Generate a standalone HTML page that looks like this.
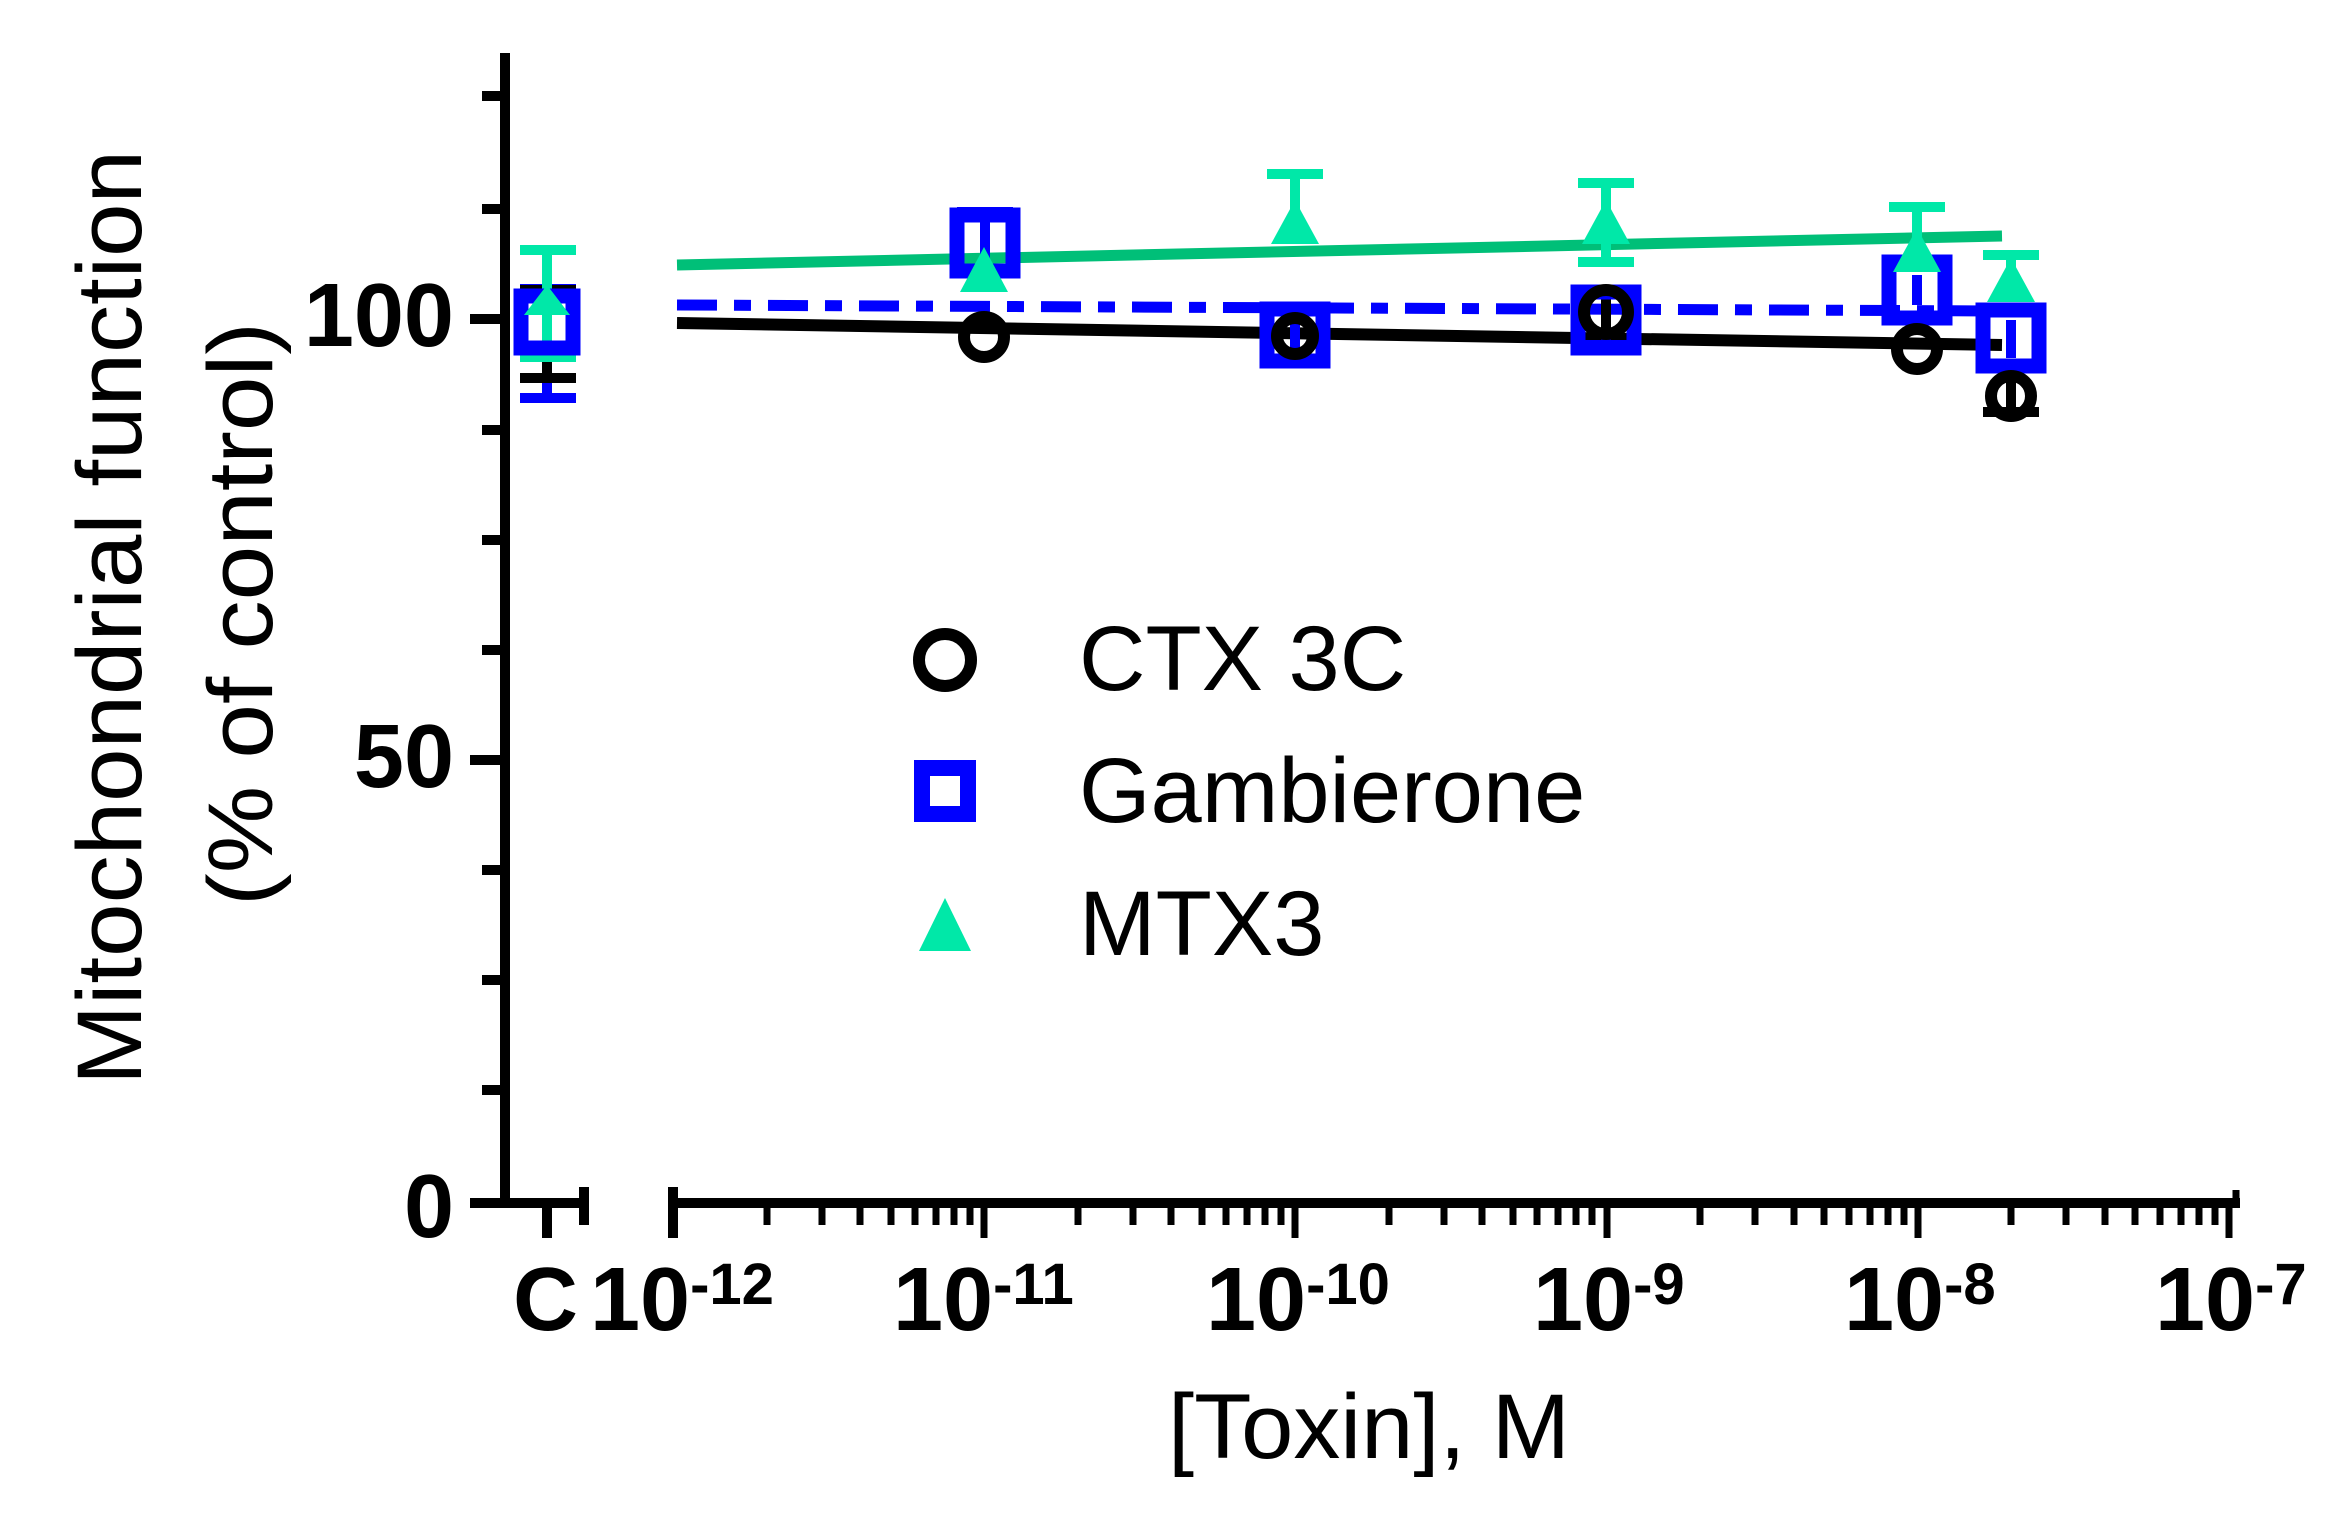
<!DOCTYPE html>
<html><head><meta charset="utf-8"><style>html,body{margin:0;padding:0;background:#fff}svg{display:block}</style></head>
<body>
<svg xmlns="http://www.w3.org/2000/svg" width="2335" height="1513" viewBox="0 0 2335 1513">
<rect width="2335" height="1513" fill="#fff"/>
<g stroke="#000" stroke-width="10" fill="none">
<line x1="505" y1="53" x2="505" y2="1208"/>
<path d="M482 96H505M482 209H505M482 430H505M482 540H505M482 650H505M482 870H505M482 980H505M482 1090H505M470 319H505M470 760H505M470 1203H505"/>
<line x1="470" y1="1203" x2="588" y2="1203"/>
<line x1="547" y1="1203" x2="547" y2="1238"/>
<line x1="584" y1="1187" x2="584" y2="1225"/>
<line x1="673" y1="1203" x2="2240" y2="1203"/>
<line x1="673" y1="1187" x2="673" y2="1238"/>
</g>
<g stroke="#000" stroke-width="7" fill="none">
<path d="M984 1203V1238M1295 1203V1238M1607 1203V1238M1918 1203V1238M2229 1203V1238M2236 1190V1203"/>
<path d="M767 1203v22M822 1203v22M860 1203v22M891 1203v22M915 1203v22M936 1203v22M954 1203v22M970 1203v22
M1078 1203v22M1133 1203v22M1171 1203v22M1202 1203v22M1226 1203v22M1247 1203v22M1265 1203v22M1281 1203v22
M1389 1203v22M1444 1203v22M1482 1203v22M1513 1203v22M1537 1203v22M1558 1203v22M1576 1203v22M1592 1203v22
M1700 1203v22M1755 1203v22M1794 1203v22M1824 1203v22M1849 1203v22M1870 1203v22M1888 1203v22M1904 1203v22
M2011 1203v22M2066 1203v22M2105 1203v22M2135 1203v22M2160 1203v22M2181 1203v22M2199 1203v22M2215 1203v22"/>
</g>
<g font-family="Liberation Sans, sans-serif" font-weight="bold" font-size="90" fill="#000">
<text x="454" y="346" text-anchor="end">100</text>
<text x="454" y="787" text-anchor="end">50</text>
<text x="454" y="1237" text-anchor="end">0</text>
<text x="513" y="1330">C</text>
<text x="590" y="1330">10<tspan font-size="58" dy="-26">-12</tspan></text>
<text x="893" y="1330">10<tspan font-size="58" dy="-26">-11</tspan></text>
<text x="1206" y="1330">10<tspan font-size="58" dy="-26">-10</tspan></text>
<text x="1533" y="1330">10<tspan font-size="58" dy="-26">-9</tspan></text>
<text x="1844" y="1330">10<tspan font-size="58" dy="-26">-8</tspan></text>
<text x="2155" y="1330">10<tspan font-size="58" dy="-26">-7</tspan></text>
</g>
<g font-family="Liberation Sans, sans-serif" font-size="92" fill="#000">
<text x="1168" y="1458" textLength="402" lengthAdjust="spacingAndGlyphs">[Toxin], M</text>
<text transform="translate(141,1085) rotate(-90)" textLength="935" lengthAdjust="spacingAndGlyphs">Mitochondrial function</text>
<text transform="translate(272,906) rotate(-90)" textLength="584" lengthAdjust="spacingAndGlyphs">(% of control)</text>
<text x="1079" y="690">CTX 3C</text>
<text x="1079" y="822">Gambierone</text>
<text x="1079" y="955">MTX3</text>
</g>
<line x1="677" y1="265" x2="2002" y2="236" stroke="#00BF78" stroke-width="11"/>
<line x1="677" y1="305" x2="2002" y2="311" stroke="#0000FF" stroke-width="11" stroke-dasharray="40 17 17 17"/>
<line x1="677" y1="323" x2="2002" y2="345" stroke="#000" stroke-width="12"/>
<g stroke-width="10" fill="none">
<g stroke="#0000FF"><path d="M547 289V398M520 398h56M520 289h56"/><path d="M985 212V290M957 212h56"/><path d="M1295 315V360"/><path d="M1606 300V345M1578 345h56"/><path d="M1917 275V305"/><path d="M2011 320V358"/></g>
<g stroke="#000"><path d="M547 290V378M520 378h56M520 290h56"/><path d="M1606 290V330M1578 290h56"/><path d="M2011 380V412M1983 412h56"/></g>
<g stroke="#00E8A8"><path d="M547 250V357M520 250h56M520 357h56"/><path d="M1295 174V222M1267 174h56"/><path d="M1606 183V262M1578 183h56M1578 262h56"/><path d="M1917 207V255M1889 207h56"/><path d="M2011 255V285M1983 255h56"/></g>
</g>
<g fill="none" stroke="#0000FF" stroke-width="15">
<rect x="957" y="215" width="56" height="56"/>
<rect x="1267" y="309" width="56" height="52"/>
<rect x="1578" y="292" width="56" height="56"/>
<rect x="1889" y="262" width="56" height="56"/>
<rect x="1983" y="310" width="56" height="56"/>
<rect x="521" y="296" width="52" height="52"/>
<rect x="922" y="768" width="46" height="46" stroke-width="16"/>
</g>
<g fill="none" stroke="#000" stroke-width="12">
<circle cx="984" cy="337" r="20"/>
<circle cx="1295" cy="336" r="18"/>
<circle cx="1606" cy="312" r="22"/>
<circle cx="1917" cy="349" r="20"/>
<circle cx="2011" cy="396" r="20"/>
<circle cx="945" cy="660" r="26"/>
</g>
<g fill="#00E8A8">
<polygon points="547,285 524,315 570,315"/>
<polygon points="984,247 960,292 1008,292"/>
<polygon points="1295,200 1271,244 1319,244"/>
<polygon points="1606,200 1582,244 1630,244"/>
<polygon points="1917,228 1893,272 1941,272"/>
<polygon points="2011,258 1987,302 2035,302"/>
<polygon points="945,898 919,951 971,951"/>
</g>
</svg>
</body></html>
